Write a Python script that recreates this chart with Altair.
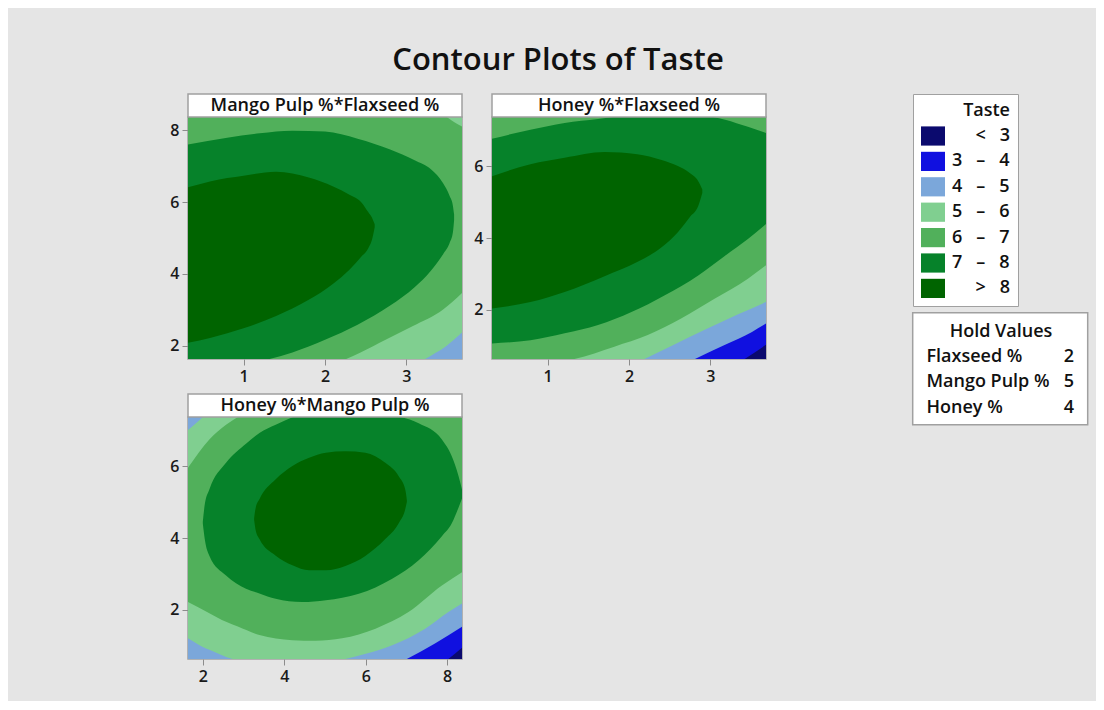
import altair as alt
import pandas as pd

TITLE = "Contour Plots of Taste"
FONT = "Open Sans"
NB = "\u00a0"
ZW = "\u200b"

# colour classes (legend order) and their colours
LEVELS = [ZW + NB * 5 + "<" + NB * 3 + "3",
          "3" + NB * 3 + "\u2013" + NB * 3 + "4",
          "4" + NB * 3 + "\u2013" + NB * 3 + "5",
          "5" + NB * 3 + "\u2013" + NB * 3 + "6",
          "6" + NB * 3 + "\u2013" + NB * 3 + "7",
          "7" + NB * 3 + "\u2013" + NB * 3 + "8",
          ZW + NB * 5 + ">" + NB * 3 + "8"]
COLORS = ["#0b0a6e", "#1010e0", "#7ba7da", "#80cf90", "#51b05b", "#06822a", "#006400"]

# hold values box
HOLD_TITLE = "Hold Values"
HOLD_NAMES = ["Flaxseed %", "Mango Pulp %", "Honey %"]
HOLD_VALUES = ["2", "5", "4"]

# factor ranges (central composite design, axial points)
FLAX_DOMAIN = [0.318, 3.682]
MANGO_DOMAIN = [1.636, 8.364]
HONEY_DOMAIN = [0.636, 7.364]

# ---------------- panel 1: Mango Pulp % (y) vs Flaxseed % (x) ----------------
P1_TITLE = "Mango Pulp %*Flaxseed %"
P1_XTICKS = [1, 2, 3]
P1_YTICKS = [2, 4, 6, 8]
P1_BASE = 2  # index of lowest class present
P1_GE5_X = [0.318, 2.4, 3.0, 3.23, 3.49, 3.682]
P1_GE5_LO = [-1.0, 0.6, 1.3, 1.636, 2.0, 2.37]
P1_GE5_HI = [9.5, 9.5, 9.5, 9.5, 9.5, 9.5]
P1_GE6_X = [0.318, 1.0, 1.8, 2.26, 2.43, 2.75, 3.08, 3.45, 3.682]
P1_GE6_LO = [0.4, 0.85, 1.33, 1.636, 1.81, 2.18, 2.55, 3.01, 3.47]
P1_GE6_HI = [9.5, 9.5, 9.5, 9.5, 9.5, 9.5, 9.5, 8.45, 8.1]
P1_GE7_X = [0.318, 0.8, 1.2, 1.6, 2.0, 2.4, 2.8, 3.1, 3.3, 3.45, 3.53, 3.57, 3.585]
P1_GE7_LO = [1.25, 1.40, 1.57, 1.82, 2.17, 2.59, 3.12, 3.63, 4.09, 4.55, 4.86, 5.15, 5.5]
P1_GE7_HI = [7.60, 7.79, 7.91, 7.98, 7.96, 7.76, 7.46, 7.16, 6.91, 6.52, 6.17, 5.9, 5.65]
P1_GE8_X = [0.318, 0.6, 1.0, 1.4, 1.8, 2.1, 2.3, 2.45, 2.53, 2.58, 2.61]
P1_GE8_LO = [2.09, 2.23, 2.49, 2.83, 3.28, 3.73, 4.12, 4.49, 4.71, 4.98, 5.3]
P1_GE8_HI = [6.41, 6.58, 6.73, 6.84, 6.68, 6.43, 6.20, 5.98, 5.72, 5.55, 5.38]

# ---------------- panel 2: Honey % (y) vs Flaxseed % (x) ----------------
P2_TITLE = "Honey %*Flaxseed %"
P2_XTICKS = [1, 2, 3]
P2_YTICKS = [2, 4, 6]
P2_BASE = 0
P2_GE3_X = [0.318, 3.0, 3.42, 3.682]
P2_GE3_LO = [-2.0, 0.0, 0.636, 1.03]
P2_GE3_HI = [9.0, 9.0, 9.0, 9.0]
P2_GE4_X = [0.318, 2.4, 2.81, 3.18, 3.51, 3.682]
P2_GE4_LO = [-2.0, 0.15, 0.636, 1.03, 1.39, 1.62]
P2_GE4_HI = [9.0, 9.0, 9.0, 9.0, 9.0, 9.0]
P2_GE5_X = [0.318, 1.8, 2.19, 2.52, 2.93, 3.34, 3.682]
P2_GE5_LO = [-2.0, 0.2, 0.636, 1.0, 1.45, 1.88, 2.22]
P2_GE5_HI = [9.0, 9.0, 9.0, 9.0, 9.0, 9.0, 9.0]
P2_GE6_X = [0.318, 0.8, 1.33, 1.82, 2.23, 2.64, 3.05, 3.46, 3.682]
P2_GE6_LO = [0.25, 0.45, 0.636, 0.98, 1.30, 1.76, 2.31, 2.87, 3.24]
P2_GE6_HI = [9.0, 9.0, 9.0, 9.0, 9.0, 9.0, 9.0, 9.0, 9.0]
P2_GE7_X = [0.318, 0.79, 1.21, 1.62, 2.03, 2.44, 2.85, 3.18, 3.46, 3.682]
P2_GE7_LO = [1.07, 1.16, 1.35, 1.58, 1.94, 2.41, 2.96, 3.51, 3.97, 4.39]
P2_GE7_HI = [6.76, 7.01, 7.20, 7.31, 7.42, 7.46, 7.42, 7.29, 7.09, 6.92]
P2_GE8_X = [0.318, 0.79, 1.21, 1.7, 2.1, 2.4, 2.6, 2.75, 2.85, 2.9]
P2_GE8_LO = [2.04, 2.22, 2.50, 2.94, 3.33, 3.74, 4.16, 4.59, 4.89, 5.25]
P2_GE8_HI = [5.72, 6.05, 6.23, 6.39, 6.33, 6.17, 6.0, 5.80, 5.58, 5.35]

# ---------------- panel 3: Honey % (y) vs Mango Pulp % (x) ----------------
P3_TITLE = "Honey %*Mango Pulp %"
P3_XTICKS = [2, 4, 6, 8]
P3_YTICKS = [2, 4, 6]
P3_BASE = 0
P3_GE3_X = [1.636, 7.5, 8.03, 8.364]
P3_GE3_LO = [-2.0, 0.15, 0.636, 0.95]
P3_GE3_HI = [9.0, 9.0, 9.0, 9.0]
P3_GE4_X = [1.636, 6.2, 7.01, 7.70, 8.364]
P3_GE4_LO = [-2.0, 0.15, 0.636, 1.07, 1.53]
P3_GE4_HI = [9.0, 9.0, 9.0, 9.0, 9.0]
P3_GE5_X = [1.636, 2.0, 2.16, 2.73, 4.1, 5.5, 6.0, 6.65, 7.46, 8.03, 8.364]
P3_GE5_LO = [1.21, 0.97, 0.89, 0.636, 0.45, 0.636, 0.78, 1.02, 1.48, 1.94, 2.18]
P3_GE5_HI = [7.0, 7.364, 7.55, 8.3, 9.0, 9.0, 9.0, 9.0, 9.0, 9.0, 9.0]
P3_GE6_X = [1.636, 2.16, 2.57, 2.86, 3.39, 4.20, 4.77, 5.42, 6.24, 7.05, 7.87, 8.364]
P3_GE6_LO = [2.22, 1.91, 1.67, 1.54, 1.30, 1.16, 1.14, 1.21, 1.48, 1.94, 2.68, 3.05]
P3_GE6_HI = [5.95, 6.74, 7.15, 7.364, 7.7, 8.0, 8.0, 8.0, 8.0, 8.0, 8.0, 8.0]
P3_GE7_X = [2.0, 2.05, 2.16, 2.57, 3.06, 3.39, 3.79, 4.44, 5.02, 5.83, 6.65, 7.30, 7.87, 8.11, 8.28, 8.364]
P3_GE7_LO = [4.40, 3.95, 3.51, 2.96, 2.59, 2.46, 2.31, 2.22, 2.27, 2.45, 2.87, 3.38, 4.05, 4.40, 4.85, 5.1]
P3_GE7_HI = [4.45, 4.95, 5.35, 6.09, 6.62, 6.92, 7.15, 7.45, 7.55, 7.55, 7.42, 7.19, 6.74, 6.28, 5.72, 5.35]
P3_GE8_X = [3.26, 3.30, 3.39, 3.79, 4.20, 4.61, 5.02, 5.50, 5.99, 6.48, 6.81, 6.97, 7.01]
P3_GE8_LO = [4.50, 4.20, 3.97, 3.51, 3.24, 3.10, 3.10, 3.22, 3.50, 3.97, 4.41, 4.80, 5.0]
P3_GE8_HI = [4.55, 4.85, 5.08, 5.63, 6.00, 6.23, 6.37, 6.41, 6.37, 6.09, 5.72, 5.35, 5.05]

W = 274
H = 242
BORDER = "#a0a0a0"
TXT = "#111111"

COLOR = alt.Color(
    "level:N",
    scale=alt.Scale(domain=LEVELS, range=COLORS),
    legend=alt.Legend(
        title="Taste", orient="none", legendX=725, legendY=-23,
        fillColor="white", strokeColor=BORDER, padding=8,
        titleAnchor="end", titleFont=FONT, titleFontSize=18, titleFontWeight=600,
        titleColor=TXT, titlePadding=4,
        labelFont=FONT, labelFontSize=18, labelFontWeight=600, labelColor=TXT,
        labelOffset=7, labelLimit=200,
        symbolType="M-1,-0.8L1,-0.8L1,0.8L-1,0.8Z", symbolSize=576,
        symbolStrokeWidth=0, symbolOpacity=1, rowPadding=3.4,
    ),
)


def txt(**kw):
    return dict(font=FONT, fontSize=18, fontWeight=600, color=TXT, baseline="middle", clip=False, **kw)


def panel(name, xdom, ydom, xticks, yticks, base, bands, extra=None):
    xsc = alt.Scale(domain=xdom, nice=False, zero=False)
    ysc = alt.Scale(domain=ydom, nice=False, zero=False)
    xax = alt.Axis(values=xticks, format="d", title=None)
    yax = alt.Axis(values=yticks, format="d", title=None)
    layers = []
    allb = [(base, xdom, [ydom[0], ydom[0]], [ydom[1], ydom[1]])] + bands
    for lvl, xs, lo, hi in allb:
        df = pd.DataFrame({"x": xs, "lo": lo, "hi": hi, "level": LEVELS[lvl]})
        layers.append(
            alt.Chart(df).mark_area(interpolate="monotone", clip=True).encode(
                x=alt.X("x:Q", scale=xsc, axis=xax),
                y=alt.Y("lo:Q", scale=ysc, axis=yax),
                y2="hi:Q",
                color=COLOR,
            )
        )
    hdr = pd.DataFrame({"t": [name]})
    layers.append(
        alt.Chart(hdr).mark_rect(fill="white", stroke=BORDER, strokeWidth=1.5, clip=False).encode(
            x=alt.value(0), x2=alt.value(W), y=alt.value(-23), y2=alt.value(0)
        )
    )
    layers.append(
        alt.Chart(hdr).mark_text(**txt(align="center")).encode(
            x=alt.value(W / 2), y=alt.value(-11.5), text="t:N"
        )
    )
    if extra:
        layers += extra
    return alt.layer(*layers).properties(width=W, height=H)


# "Hold Values" box, drawn to the right of panel 2
hold_layers = []
hold_hdr = pd.DataFrame({"t": [HOLD_TITLE]})
hold_layers.append(
    alt.Chart(hold_hdr).mark_rect(fill="white", stroke=BORDER, strokeWidth=1.5, clip=False).encode(
        x=alt.value(420.7), x2=alt.value(595.7), y=alt.value(195.7), y2=alt.value(307.7)
    )
)
hold_layers.append(
    alt.Chart(hold_hdr).mark_text(**txt(align="center")).encode(
        x=alt.value(509), y=alt.value(215), text="t:N"
    )
)
for i, (n, v) in enumerate(zip(HOLD_NAMES, HOLD_VALUES)):
    row = pd.DataFrame({"name": [n], "value": [v]})
    ypix = 239.5 + 25.8 * i
    hold_layers.append(
        alt.Chart(row).mark_text(**txt(align="left")).encode(
            x=alt.value(434.5), y=alt.value(ypix), text="name:N"
        )
    )
    hold_layers.append(
        alt.Chart(row).mark_text(**txt(align="right")).encode(
            x=alt.value(582), y=alt.value(ypix), text="value:N"
        )
    )

p1 = panel(P1_TITLE, FLAX_DOMAIN, MANGO_DOMAIN, P1_XTICKS, P1_YTICKS, P1_BASE, [
    (3, P1_GE5_X, P1_GE5_LO, P1_GE5_HI),
    (4, P1_GE6_X, P1_GE6_LO, P1_GE6_HI),
    (5, P1_GE7_X, P1_GE7_LO, P1_GE7_HI),
    (6, P1_GE8_X, P1_GE8_LO, P1_GE8_HI),
])
p2 = panel(P2_TITLE, FLAX_DOMAIN, HONEY_DOMAIN, P2_XTICKS, P2_YTICKS, P2_BASE, [
    (1, P2_GE3_X, P2_GE3_LO, P2_GE3_HI),
    (2, P2_GE4_X, P2_GE4_LO, P2_GE4_HI),
    (3, P2_GE5_X, P2_GE5_LO, P2_GE5_HI),
    (4, P2_GE6_X, P2_GE6_LO, P2_GE6_HI),
    (5, P2_GE7_X, P2_GE7_LO, P2_GE7_HI),
    (6, P2_GE8_X, P2_GE8_LO, P2_GE8_HI),
], extra=hold_layers)
p3 = panel(P3_TITLE, MANGO_DOMAIN, HONEY_DOMAIN, P3_XTICKS, P3_YTICKS, P3_BASE, [
    (1, P3_GE3_X, P3_GE3_LO, P3_GE3_HI),
    (2, P3_GE4_X, P3_GE4_LO, P3_GE4_HI),
    (3, P3_GE5_X, P3_GE5_LO, P3_GE5_HI),
    (4, P3_GE6_X, P3_GE6_LO, P3_GE6_HI),
    (5, P3_GE7_X, P3_GE7_LO, P3_GE7_HI),
    (6, P3_GE8_X, P3_GE8_LO, P3_GE8_HI),
])

chart = alt.concat(p1, p2, p3, columns=2, spacing={"row": 58, "column": 30},
                   bounds="flush").resolve_scale(color="shared")

chart = chart.properties(
    title=alt.TitleParams(TITLE, font=FONT, fontSize=31, fontWeight=600, color=TXT,
                          anchor="middle", frame="group", dx=370, offset=16),
    padding={"left": 161, "top": 36, "right": 6, "bottom": 16},
    background="#e5e5e5",
).configure_axis(
    labelFont=FONT, labelFontSize=16, labelFontWeight=600, labelColor="#1a1a1a",
    tickColor="#8c8c8c", tickSize=6, tickWidth=1, labelPadding=3,
    domain=False, grid=False,
).configure_view(stroke=BORDER, strokeWidth=1.5)

chart.save("out.html", embed_options={"renderer": "svg", "actions": False})
